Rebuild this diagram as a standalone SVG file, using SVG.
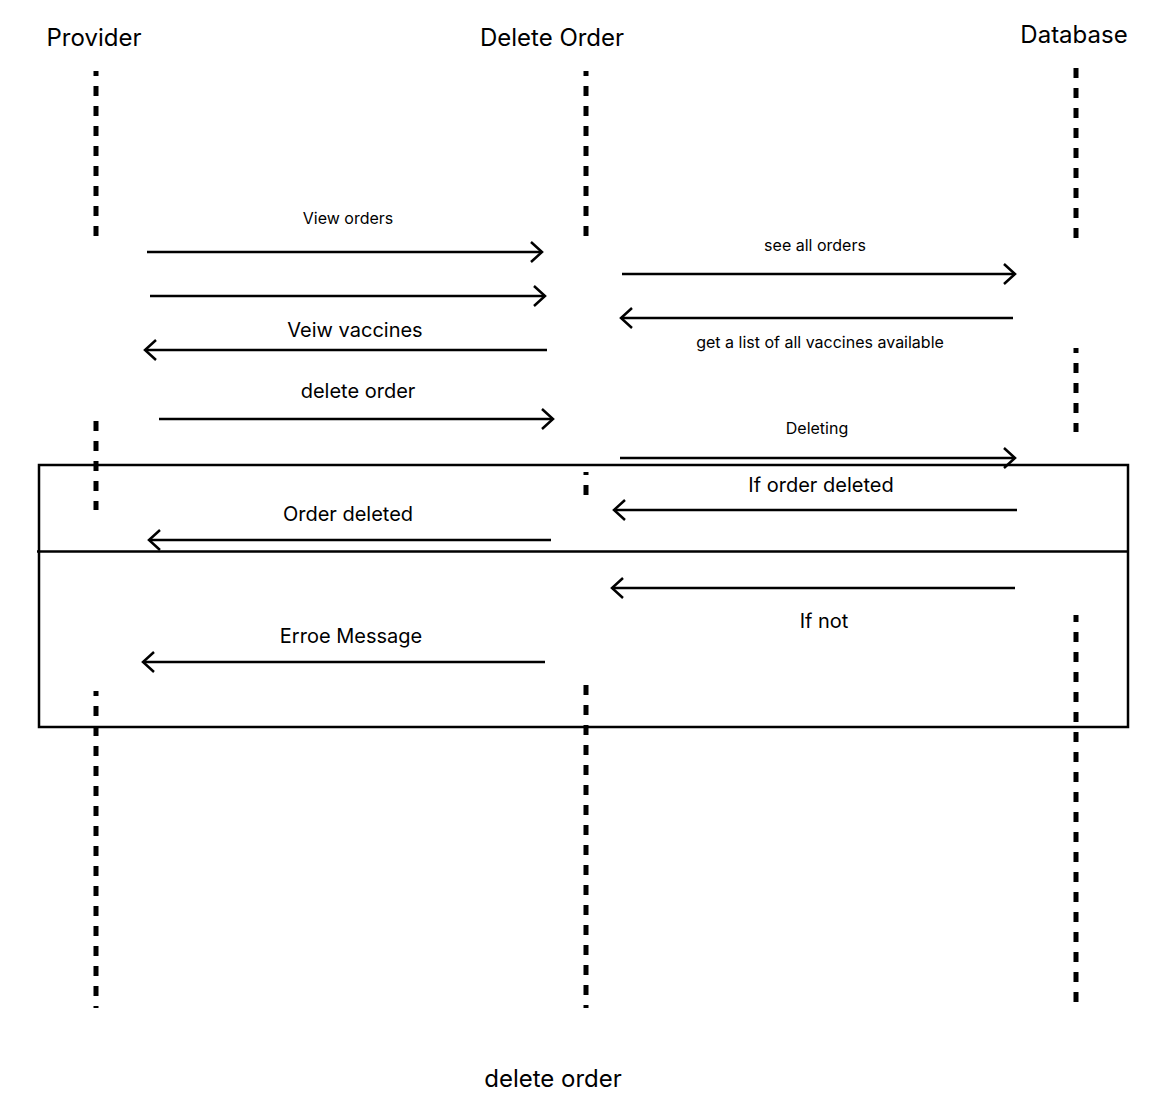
<svg xmlns="http://www.w3.org/2000/svg" width="1169" height="1102" viewBox="0 0 1169 1102">
  <style>
    .t { font-family: Inter, "Noto Sans", "Liberation Sans", sans-serif; fill: #000; text-anchor: middle; }
    .h { font-size: 24px; }
    .m { font-size: 20px; }
    .s { font-size: 16px; }
    .life { stroke: #000; stroke-width: 5; stroke-dasharray: 10 10; fill: none; }
    .msg { stroke: #000; stroke-width: 2.5; fill: none; }
    .frame { stroke: #000; stroke-width: 2.5; fill: none; }
  </style>
  <defs>
    <marker id="head" markerUnits="userSpaceOnUse" markerWidth="20" markerHeight="26" refX="14" refY="13" orient="auto">
      <polyline points="3,3 14,13 3,23" fill="none" stroke="#000" stroke-width="2.5"/>
    </marker>
  </defs>
  <rect width="1169" height="1102" fill="#fff"/>

  <!-- participants -->
  <g id="provider">
    <text class="t h" x="94" y="46">Provider</text>
    <line class="life" x1="96" y1="71" x2="96" y2="236" stroke-dashoffset="5"/>
    <line class="life" x1="96" y1="421" x2="96" y2="510"/>
    <line class="life" x1="96" y1="691" x2="96" y2="1008" stroke-dashoffset="5"/>
  </g>
  <g id="delete-order">
    <text class="t h" x="552" y="46">Delete Order</text>
    <line class="life" x1="586" y1="71" x2="586" y2="236" stroke-dashoffset="5"/>
    <line class="life" x1="586" y1="472" x2="586" y2="495" stroke-dashoffset="7"/>
    <line class="life" x1="586" y1="685" x2="586" y2="1008"/>
  </g>
  <g id="database">
    <text class="t h" x="1074" y="43">Database</text>
    <line class="life" x1="1076" y1="68" x2="1076" y2="243"/>
    <line class="life" x1="1076" y1="348" x2="1076" y2="432" stroke-dashoffset="5"/>
    <line class="life" x1="1076" y1="615" x2="1076" y2="1005" stroke-dashoffset="3"/>
  </g>

  <!-- alt frame -->
  <g id="alt-frame">
    <rect class="frame" x="39" y="465" width="1089" height="262"/>
    <line class="frame" x1="37" y1="551.5" x2="1128" y2="551.5"/>
  </g>

  <!-- messages -->
  <g id="messages">
    <line class="msg" x1="147" y1="252" x2="542" y2="252" marker-end="url(#head)"/>
    <line class="msg" x1="150" y1="296" x2="545" y2="296" marker-end="url(#head)"/>
    <line class="msg" x1="547" y1="350" x2="145" y2="350" marker-end="url(#head)"/>
    <line class="msg" x1="159" y1="419" x2="553" y2="419" marker-end="url(#head)"/>
    <line class="msg" x1="622" y1="274" x2="1015" y2="274" marker-end="url(#head)"/>
    <line class="msg" x1="1013" y1="318" x2="621" y2="318" marker-end="url(#head)"/>
    <line class="msg" x1="620" y1="458" x2="1015" y2="458" marker-end="url(#head)"/>
    <line class="msg" x1="1017" y1="510" x2="614" y2="510" marker-end="url(#head)"/>
    <line class="msg" x1="551" y1="540" x2="149" y2="540" marker-end="url(#head)"/>
    <line class="msg" x1="1015" y1="588" x2="612" y2="588" marker-end="url(#head)"/>
    <line class="msg" x1="545" y1="662" x2="143" y2="662" marker-end="url(#head)"/>
  </g>

  <!-- message labels -->
  <g id="labels">
    <text class="t s" x="348" y="224">View orders</text>
    <text class="t m" x="355" y="337">Veiw vaccines</text>
    <text class="t m" x="358" y="398">delete order</text>
    <text class="t s" x="815" y="251">see all orders</text>
    <text class="t s" x="820" y="348">get a list of all vaccines available</text>
    <text class="t s" x="817" y="434">Deleting</text>
    <text class="t m" x="821" y="492">If order deleted</text>
    <text class="t m" x="348" y="521">Order deleted</text>
    <text class="t m" x="824" y="628">If not</text>
    <text class="t m" x="351" y="643">Erroe Message</text>
  </g>

  <text class="t h" x="553" y="1087">delete order</text>
</svg>
